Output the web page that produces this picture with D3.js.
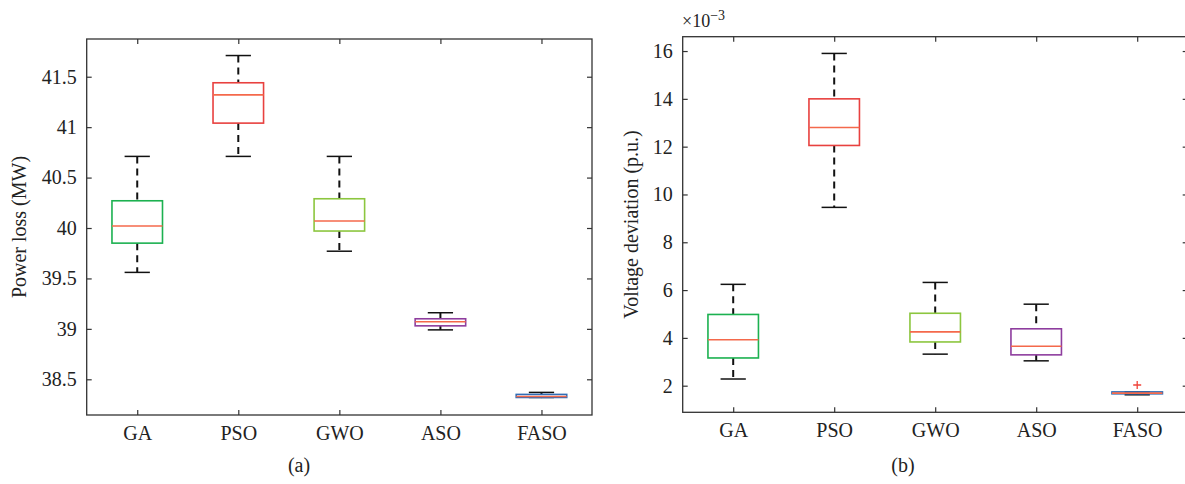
<!DOCTYPE html>
<html>
<head>
<meta charset="utf-8">
<script src="https://cdn.jsdelivr.net/npm/d3@7"></script>
<style>
  body { margin: 0; background: #fff; }
  svg { display: block; font-family: "Liberation Serif", "DejaVu Serif", serif; }
</style>
</head>
<body>
<div id="chart"></div>
<script>
/* -----------------    DATA     ------------------ */
const categories = ['GA', 'PSO', 'GWO', 'ASO', 'FASO'];
const boxColors = ['#1cb150', '#e8413f', '#8cc63f', '#8e3d9e', '#2f6db6'];

// (a) power loss, MW
const lossLower = [39.56, 40.71, 39.77, 38.99, 38.32];
const lossQ1 = [39.85, 41.04, 39.97, 39.03, 38.32];
const lossMedian = [40.02, 41.32, 40.07, 39.07, 38.33];
const lossQ3 = [40.27, 41.44, 40.29, 39.10, 38.35];
const lossUpper = [40.71, 41.71, 40.71, 39.16, 38.37];
const lossOutliers = [];
const lossTicks = [38.5, 39, 39.5, 40, 40.5, 41, 41.5];

// (b) voltage deviation, p.u. x 10^-3
const voltLower = [2.28, 9.46, 3.32, 3.04, 1.62];
const voltQ1 = [3.16, 12.05, 3.83, 3.29, 1.66];
const voltMedian = [3.92, 12.80, 4.25, 3.65, 1.69];
const voltQ3 = [4.98, 14.00, 5.03, 4.38, 1.74];
const voltUpper = [6.24, 15.90, 6.32, 5.41, 1.74];
const voltOutliers = [{ cat: 'FASO', value: 2.03 }];
const voltTicks = [2, 4, 6, 8, 10, 12, 14, 16];

/* -----------------    SETTINGS     ------------------ */
const settings = {
    width: 1185,
    height: 484,
    tickLen: 5,
    tickFont: 20,
    labelFont: 20,
    whiskerColor: '#111',
    medianColor: '#f4694b',
    axisColor: '#333'
};

/* -----------------    LOGIC     ------------------ */
const svg = d3.select('#chart')
    .append('svg')
    .attr('width', settings.width)
    .attr('height', settings.height);

function makeStats(lower, q1, median, q3, upper) {
    return categories.map((c, i) => ({
        cat: c,
        color: boxColors[i],
        lower: lower[i],
        q1: q1[i],
        median: median[i],
        q3: q3[i],
        upper: upper[i]
    }));
}

function drawPanel(opts) {
    const xScale = d3.scaleLinear()
        .domain([0.5, categories.length + 0.5])
        .range([opts.left, opts.right]);

    const xPos = c => xScale(categories.indexOf(c) + 1);
    const unit = xScale(1) - xScale(0);

    const yScale = d3.scaleLinear()
        .domain(opts.domain)
        .range([opts.bottom, opts.top]);

    const g = svg.append('g');

    // Axes (ticks pointing inwards, as in MATLAB)
    const xAxis = d3.axisBottom(xScale)
        .tickValues(d3.range(1, categories.length + 1))
        .tickFormat(d => categories[d - 1])
        .tickSizeInner(-settings.tickLen)
        .tickSizeOuter(0)
        .tickPadding(10);

    const xAxisTop = d3.axisTop(xScale)
        .tickValues(d3.range(1, categories.length + 1))
        .tickFormat('')
        .tickSizeInner(-settings.tickLen)
        .tickSizeOuter(0);

    const yAxis = d3.axisLeft(yScale)
        .tickValues(opts.ticks)
        .tickFormat(opts.format)
        .tickSizeInner(-settings.tickLen)
        .tickSizeOuter(0)
        .tickPadding(10);

    const yAxisRight = d3.axisRight(yScale)
        .tickValues(opts.ticks)
        .tickFormat('')
        .tickSizeInner(-settings.tickLen)
        .tickSizeOuter(0);

    g.append('g')
        .attr('class', 'x axis')
        .attr('transform', `translate(0, ${opts.bottom})`)
        .call(xAxis)
        .call(s => s.selectAll('text').attr('font-size', settings.tickFont).attr('dy', '0.76em'));

    g.append('g')
        .attr('transform', `translate(0, ${opts.top})`)
        .call(xAxisTop);

    g.append('g')
        .attr('class', 'y axis')
        .attr('transform', `translate(${opts.left}, 0)`)
        .call(yAxis)
        .call(s => s.selectAll('text').attr('font-size', settings.tickFont));

    g.append('g')
        .attr('transform', `translate(${opts.right}, 0)`)
        .call(yAxisRight);

    g.selectAll('.domain').remove();
    g.selectAll('.tick line').attr('stroke', settings.axisColor).attr('stroke-width', 1.2);
    g.selectAll('.tick text').attr('fill', '#222').attr('font-family', '"Liberation Serif", serif');

    // Frame
    g.append('rect')
        .attr('x', opts.left)
        .attr('y', opts.top)
        .attr('width', opts.right - opts.left)
        .attr('height', opts.bottom - opts.top)
        .attr('fill', 'none')
        .attr('stroke', settings.axisColor)
        .attr('stroke-width', 1.3);

    // Boxes
    const boxes = g.append('g')
        .attr('class', 'boxes')
        .selectAll('g')
        .data(opts.stats)
        .enter()
        .append('g');

    // whiskers
    boxes.append('line')
        .attr('x1', d => xPos(d.cat))
        .attr('x2', d => xPos(d.cat))
        .attr('y1', d => yScale(d.upper))
        .attr('y2', d => yScale(d.q3))
        .attr('stroke', settings.whiskerColor)
        .attr('stroke-width', 2)
        .attr('stroke-dasharray', '7,5');

    boxes.append('line')
        .attr('x1', d => xPos(d.cat))
        .attr('x2', d => xPos(d.cat))
        .attr('y1', d => yScale(d.q1))
        .attr('y2', d => yScale(d.lower))
        .attr('stroke', settings.whiskerColor)
        .attr('stroke-width', 2)
        .attr('stroke-dasharray', '7,5');

    // caps
    ['upper', 'lower'].forEach(k => {
        boxes.append('line')
            .attr('x1', d => xPos(d.cat) - unit * 0.125)
            .attr('x2', d => xPos(d.cat) + unit * 0.125)
            .attr('y1', d => yScale(d[k]))
            .attr('y2', d => yScale(d[k]))
            .attr('stroke', settings.whiskerColor)
            .attr('stroke-width', 1.5);
    });

    // box
    boxes.append('rect')
        .attr('x', d => xPos(d.cat) - unit * 0.25)
        .attr('y', d => yScale(d.q3))
        .attr('width', unit * 0.5)
        .attr('height', d => Math.max(1, yScale(d.q1) - yScale(d.q3)))
        .attr('fill', 'none')
        .attr('stroke', d => d.color)
        .attr('stroke-width', 1.6);

    // median
    boxes.append('line')
        .attr('x1', d => xPos(d.cat) - unit * 0.25)
        .attr('x2', d => xPos(d.cat) + unit * 0.25)
        .attr('y1', d => yScale(d.median))
        .attr('y2', d => yScale(d.median))
        .attr('stroke', settings.medianColor)
        .attr('stroke-width', 1.6);

    // outliers
    g.append('g')
        .selectAll('path')
        .data(opts.outliers)
        .enter()
        .append('path')
        .attr('transform', d => `translate(${xPos(d.cat)}, ${yScale(d.value)})`)
        .attr('d', 'M-4,0H4M0,-4V4')
        .attr('stroke', '#f0433a')
        .attr('stroke-width', 1.3)
        .attr('fill', 'none');

    // Y label
    g.append('text')
        .attr('transform', `translate(${opts.labelX}, ${(opts.top + opts.bottom) / 2}) rotate(-90)`)
        .attr('text-anchor', 'middle')
        .attr('font-size', settings.labelFont)
        .attr('fill', '#222')
        .text(opts.yLabel);

    // caption
    g.append('text')
        .attr('x', opts.captionX)
        .attr('y', 472)
        .attr('text-anchor', 'middle')
        .attr('font-size', settings.labelFont)
        .attr('fill', '#222')
        .text(opts.caption);

    return { xScale, yScale };
}

drawPanel({
    left: 86.7, right: 592, top: 39, bottom: 415,
    domain: [38.146, 41.874],
    ticks: lossTicks,
    format: d3.format('~g'),
    stats: makeStats(lossLower, lossQ1, lossMedian, lossQ3, lossUpper),
    outliers: lossOutliers,
    yLabel: 'Power loss (MW)',
    labelX: 26,
    caption: '(a)',
    captionX: 299
});

drawPanel({
    left: 682.7, right: 1187.7, top: 36.7, bottom: 412.3,
    domain: [0.887, 16.6],
    ticks: voltTicks,
    format: d3.format('d'),
    stats: makeStats(voltLower, voltQ1, voltMedian, voltQ3, voltUpper),
    outliers: voltOutliers,
    yLabel: 'Voltage deviation (p.u.)',
    labelX: 638,
    caption: '(b)',
    captionX: 903
});

// exponent label for panel (b)
const expo = svg.append('text')
    .attr('x', 682)
    .attr('y', 27)
    .attr('font-size', 18)
    .attr('fill', '#222');
expo.append('tspan').text('×10');
expo.append('tspan').attr('dy', -7).attr('font-size', 14).text('−3');
</script>
</body>
</html>
